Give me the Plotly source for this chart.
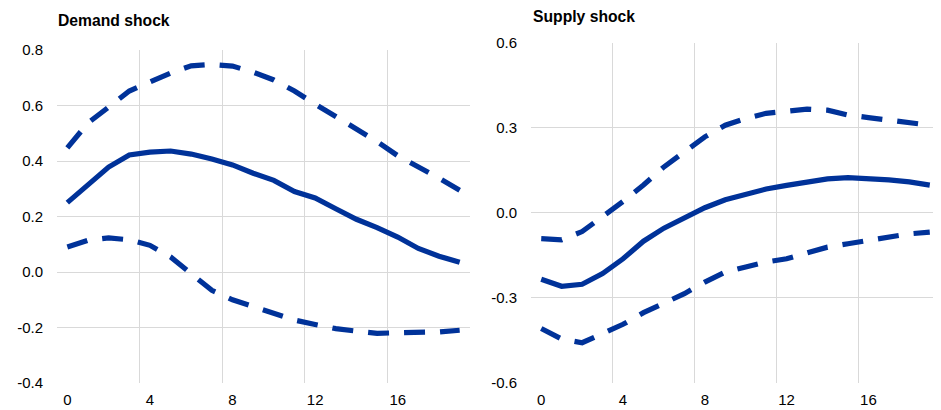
import plotly.graph_objects as go

horizons = list(range(20))
x_tick_labels = [0, 4, 8, 12, 16]

demand_median = [0.25, 0.315, 0.378, 0.422, 0.432, 0.436, 0.425, 0.407, 0.386, 0.356,
                 0.33, 0.29, 0.267, 0.228, 0.19, 0.16, 0.126, 0.085, 0.057, 0.035]
demand_upper = [0.447, 0.537, 0.594, 0.652, 0.685, 0.717, 0.743, 0.748, 0.742, 0.72,
                0.692, 0.652, 0.605, 0.56, 0.519, 0.47, 0.419, 0.38, 0.338, 0.295]
demand_lower = [0.09, 0.114, 0.123, 0.116, 0.096, 0.054, -0.006, -0.066, -0.10, -0.126,
                -0.149, -0.173, -0.189, -0.204, -0.213, -0.221, -0.219, -0.218, -0.216, -0.21]

supply_median = [-0.234, -0.259, -0.252, -0.214, -0.162, -0.10, -0.054, -0.019, 0.018, 0.046,
                 0.067, 0.084, 0.097, 0.108, 0.12, 0.124, 0.122, 0.116, 0.109, 0.098]
supply_upper = [-0.091, -0.095, -0.066, -0.015, 0.04, 0.098, 0.162, 0.215, 0.268, 0.309,
                0.333, 0.351, 0.359, 0.366, 0.362, 0.345, 0.336, 0.327, 0.321, 0.309]
supply_lower = [-0.408, -0.445, -0.458, -0.425, -0.393, -0.352, -0.32, -0.285, -0.244, -0.209,
                -0.191, -0.173, -0.162, -0.142, -0.121, -0.109, -0.097, -0.086, -0.074, -0.068]

demand_yticks = [-0.4, -0.2, 0.0, 0.2, 0.4, 0.6, 0.8]
supply_yticks = [-0.6, -0.3, 0.0, 0.3, 0.6]

BLUE = "#003299"
GRID = "#d9d9d9"
FONT = "Liberation Sans, Arial, sans-serif"
W, H = 941, 410
OFF = 8  # page body margin offset

fig = go.Figure()

def add_lines(xa, ya, med, up, lo):
    for vals, dash in ((up, "21px,15px"), (lo, "21px,15px"), (med, "solid")):
        fig.add_trace(go.Scatter(x=horizons, y=vals, mode="lines", xaxis=xa, yaxis=ya,
                                 line=dict(color=BLUE, width=5.2, dash=dash),
                                 showlegend=False, hoverinfo="skip"))

add_lines("x", "y", demand_median, demand_upper, demand_lower)
add_lines("x2", "y2", supply_median, supply_upper, supply_lower)

xcommon = dict(range=[-0.5, 19.5], tickmode="array", tickvals=x_tick_labels,
               ticktext=[str(v) for v in x_tick_labels], showgrid=False, zeroline=False,
               showline=False, ticks="", ticklabelstandoff=6, automargin=False,
               tickfont=dict(family=FONT, size=15, color="#000000"),
               minor=dict(tick0=-0.5, dtick=4, showgrid=True, gridcolor=GRID, gridwidth=1, ticks=""))

ycommon = dict(showgrid=True, gridcolor=GRID, zeroline=False, ticks="", ticklabelstandoff=13,
               automargin=False, tickfont=dict(family=FONT, size=15, color="#000000"))

def px_x(v):
    return (v - OFF) / W

def px_y(v):
    return 1 - (v - OFF) / H

fig.update_layout(
    template="none",
    width=W, height=H,
    margin=dict(l=0, r=0, t=0, b=0, pad=0, autoexpand=False),
    paper_bgcolor="white", plot_bgcolor="white",
    xaxis=dict(domain=[px_x(57), px_x(470)], anchor="y", **xcommon),
    xaxis2=dict(domain=[px_x(531), px_x(940)], anchor="y2", **xcommon),
    yaxis=dict(domain=[px_y(383), px_y(50)], anchor="x", range=[-0.4, 0.8],
               tickvals=demand_yticks, ticktext=[f"{v:.1f}" for v in demand_yticks], **ycommon),
    yaxis2=dict(domain=[px_y(383), px_y(42.7)], anchor="x2", range=[-0.6, 0.6],
                tickvals=supply_yticks, ticktext=[f"{v:.1f}" for v in supply_yticks], **ycommon),
    annotations=[
        dict(text="<b>Demand shock</b>", xref="paper", yref="paper", x=px_x(56), y=px_y(20.7),
             xanchor="left", yanchor="middle", showarrow=False,
             font=dict(family=FONT, size=15.7, color="#000000")),
        dict(text="<b>Supply shock</b>", xref="paper", yref="paper", x=px_x(530.5), y=px_y(16.7),
             xanchor="left", yanchor="middle", showarrow=False,
             font=dict(family=FONT, size=15.7, color="#000000")),
    ],
)

fig.write_html("out.html")
